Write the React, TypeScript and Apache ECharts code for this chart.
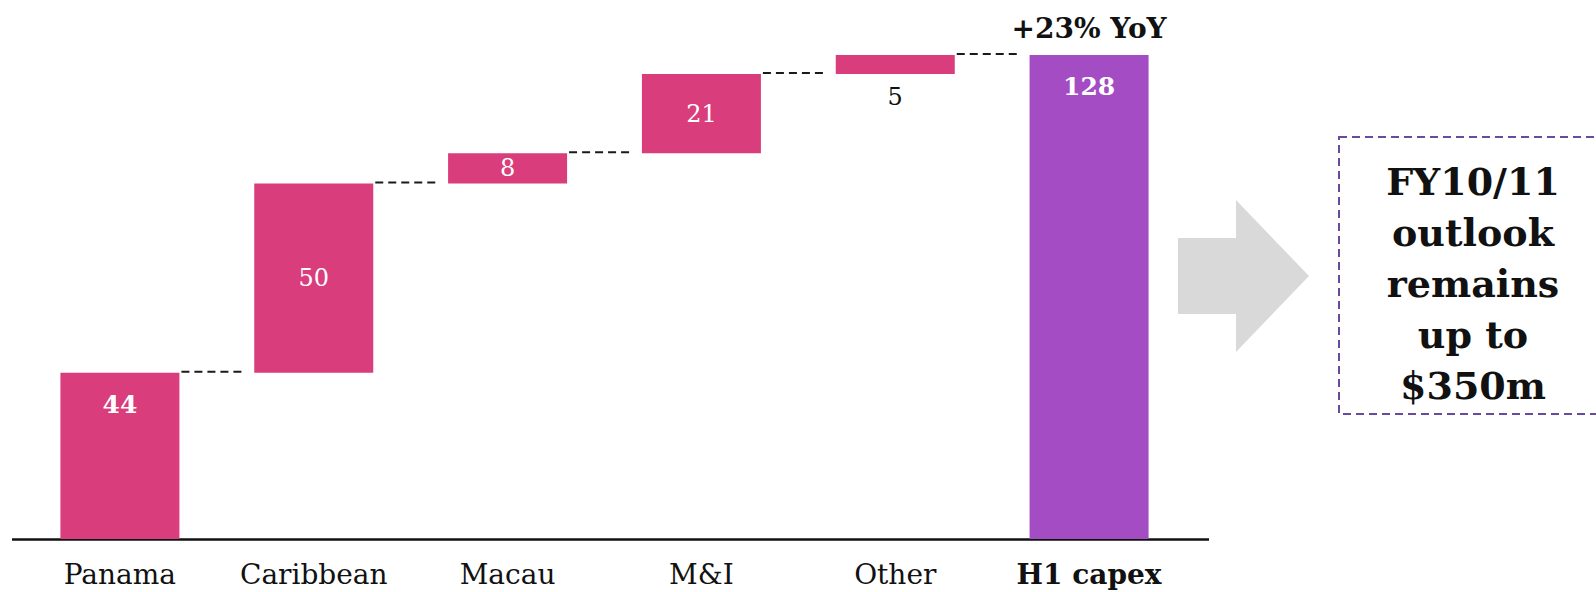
import React, { useEffect, useRef } from "react";
import * as echarts from "echarts";

const categories = ["Panama", "Caribbean", "Macau", "M&I", "Other", "H1 capex"];
const increments = [44, 50, 8, 21, 5, 128];
const isTotal = [false, false, false, false, false, true];
const yoyLabel = "+23% YoY";
const outlookText = "FY10/11\noutlook\nremains\nup to\n$350m";

const PINK = "#D93D7C";
const PURPLE = "#A34CC3";
const FONT = "'DejaVu Serif', Georgia, serif";
const BAR_W = 119;

export default function App() {
  const ref = useRef<HTMLDivElement>(null);

  useEffect(() => {
    if (!ref.current) return;
    const chart = echarts.init(ref.current, undefined, { renderer: "svg" });

    // waterfall bases (running totals)
    const bases: number[] = [];
    const levels: number[] = [];
    let run = 0;
    increments.forEach((v, i) => {
      if (isTotal[i]) {
        bases.push(0);
      } else {
        bases.push(run);
        run += v;
      }
      levels.push(isTotal[i] ? v : run);
    });

    const labelFor = (i: number) => {
      if (i === 0 || isTotal[i]) {
        return { show: true, position: "insideTop", distance: 19, color: "#fff", fontWeight: "bold", fontSize: 25, fontFamily: FONT };
      }
      if (increments[i] < 7) {
        return { show: true, position: "bottom", distance: 11, color: "#111", fontSize: 24, fontFamily: FONT };
      }
      return { show: true, position: "inside", color: "#fff", fontSize: 24, fontFamily: FONT };
    };

    const connectorData = levels.slice(0, levels.length - 1).map((lv, i) => [i, lv]);

    chart.setOption({
      animation: false,
      grid: { left: 23, right: 410, top: 55, bottom: 53 },
      xAxis: {
        type: "category",
        data: categories,
        axisLine: { show: false },
        axisTick: { show: false },
        axisLabel: {
          margin: 21,
          interval: 0,
          formatter: (v: string) => (isTotal[categories.indexOf(v)] ? `{b|${v}}` : `{n|${v}}`),
          rich: {
            n: { fontSize: 28, fontFamily: FONT, color: "#111" },
            b: { fontSize: 28, fontFamily: FONT, color: "#111", fontWeight: "bold" },
          },
        },
      },
      yAxis: {
        type: "value",
        min: 0,
        max: Math.max(...increments),
        show: false,
        splitLine: { show: false },
      },
      series: [
        {
          type: "bar",
          stack: "w",
          barWidth: BAR_W,
          silent: true,
          itemStyle: { color: "transparent" },
          data: bases,
        },
        {
          type: "bar",
          stack: "w",
          barWidth: BAR_W,
          data: increments.map((v, i) => ({
            value: v,
            itemStyle: { color: isTotal[i] ? PURPLE : PINK },
            label: labelFor(i),
          })),
          markPoint: {
            symbol: "circle",
            symbolSize: 1,
            itemStyle: { color: "transparent" },
            label: {
              show: true,
              position: "top",
              distance: 12,
              formatter: yoyLabel,
              color: "#111",
              fontWeight: "bold",
              fontSize: 28,
              fontFamily: FONT,
            },
            data: [{ coord: [categories[categories.length - 1], increments[increments.length - 1]] }],
          },
        },
        {
          type: "custom",
          silent: true,
          data: connectorData,
          renderItem: (params: any, api: any) => {
            const p = api.coord([api.value(0), api.value(1)]);
            const band = api.size([1, 0])[0];
            const x1 = p[0] + BAR_W / 2 + 2;
            const x2 = p[0] + band - BAR_W / 2 - 8;
            return {
              type: "line",
              shape: { x1, y1: p[1] - 1, x2, y2: p[1] - 1 },
              style: { stroke: "#1a1a1a", lineWidth: 2, lineDash: [8, 5] },
            };
          },
        },
      ],
      graphic: [
        {
          type: "line",
          shape: { x1: 12, y1: 539.5, x2: 1209, y2: 539.5 },
          style: { stroke: "#111", lineWidth: 2.5 },
          silent: true,
        },
        {
          type: "polygon",
          shape: {
            points: [
              [1178, 238],
              [1236, 238],
              [1236, 200],
              [1309, 276],
              [1236, 352],
              [1236, 314],
              [1178, 314],
            ],
          },
          style: { fill: "#D9D9D9" },
          silent: true,
        },
        {
          type: "rect",
          shape: { x: 1339, y: 137, width: 290, height: 277 },
          style: { fill: "transparent", stroke: "#6A4A9E", lineWidth: 2, lineDash: [8, 5] },
          silent: true,
        },
        {
          type: "text",
          x: 1473,
          y: 283,
          style: {
            text: outlookText,
            fill: "#111",
            fontSize: 38,
            fontWeight: "bold",
            fontFamily: FONT,
            lineHeight: 51,
            align: "center",
            verticalAlign: "middle",
          },
          silent: true,
        },
      ],
    });

    return () => chart.dispose();
  }, []);

  return (
    <div
      ref={ref}
      style={{ position: "fixed", left: 0, top: 0, width: 1596, height: 592, background: "#fff" }}
    />
  );
}
